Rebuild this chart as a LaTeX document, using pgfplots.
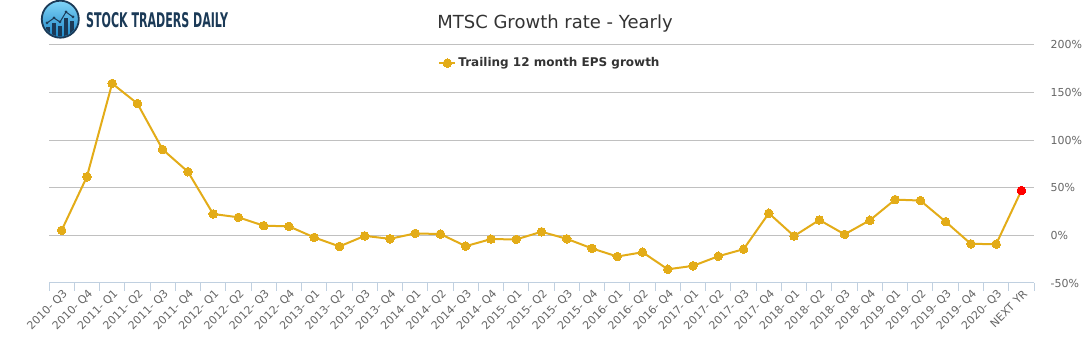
\documentclass[border=0pt]{standalone}
\usepackage{pgfplots}
\pgfplotsset{compat=1.18}
\usepackage{fontspec}
\setmainfont{DejaVu Sans}
\definecolor{gold}{HTML}{E3AC18}
\definecolor{gridc}{HTML}{C0C0C0}
\definecolor{axisc}{HTML}{C0D0E0}
\definecolor{labc}{HTML}{666666}
\definecolor{titc}{HTML}{333333}
\definecolor{navy}{HTML}{1B3A57}
\definecolor{skyA}{HTML}{7FD3F7}
\definecolor{skyB}{HTML}{1E88C8}
\begin{document}
\begin{tikzpicture}[x=1pt,y=1pt]
\useasboundingbox (0,0) rectangle (1091,350);
% logo
\shade[top color=skyA, bottom color=skyB] (60.3,330.8) circle (18);
\draw[navy, line width=1.8pt] (60.3,330.8) circle (18.5);
\begin{scope}
\clip (60.3,330.8) circle (17.2);
\fill[navy] (46,312) rectangle (50,323);
\fill[navy] (52,312) rectangle (56,327);
\fill[navy] (58,312) rectangle (62,324);
\fill[navy] (64,312) rectangle (68,332);
\fill[navy] (70,312) rectangle (74,329);
\end{scope}
\draw[navy, line width=1pt] (47,327)--(54,332)--(60,328)--(66,338)--(73,333);
\foreach \p in {(47,327),(54,332),(60,328),(66,338),(73,333)} \fill[navy] \p circle (1.5);
\node[anchor=south west, inner sep=0, text=navy] at (86,321.7) {\resizebox{142pt}{15pt}{\bfseries STOCK TRADERS DAILY}};
% title
\node[text=titc, font=\fontsize{18}{22}\selectfont] at (555,326) {MTSC Growth rate - Yearly};
\begin{axis}[
  at={(49pt,67pt)}, anchor=south west,
  scale only axis, width=985pt, height=238pt,
  xmin=-0.5, xmax=38.5, ymin=-50, ymax=200,
  axis x line*=bottom, axis y line*=right,
  x axis line style={draw=axisc, line width=1pt, -},
  y axis line style={draw=none},
  xtick={0,...,38},
  xticklabels={2010- Q3, 2010- Q4, 2011- Q1, 2011- Q2, 2011- Q3, 2011- Q4, 2012- Q1, 2012- Q2, 2012- Q3, 2012- Q4, 2013- Q1, 2013- Q2, 2013- Q3, 2013- Q4, 2014- Q1, 2014- Q2, 2014- Q3, 2014- Q4, 2015- Q1, 2015- Q2, 2015- Q3, 2015- Q4, 2016- Q1, 2016- Q2, 2016- Q4, 2017- Q1, 2017- Q2, 2017- Q3, 2017- Q4, 2018- Q1, 2018- Q2, 2018- Q3, 2018- Q4, 2019- Q1, 2019- Q2, 2019- Q3, 2019- Q4, 2020- Q3, NEXT YR},
  minor xtick={-0.5,0.5,...,38.5},
  major tick length=0pt, minor tick length=8pt,
  tick align=outside,
  minor tick style={draw=axisc, line width=1pt},
  xticklabel style={font=\fontsize{11}{13}\selectfont, text=labc, rotate=45, anchor=east, yshift=-9pt},
  ytick={-50,0,50,100,150,200},
  ymajorgrids, grid style={draw=gridc, line width=1pt},
  yticklabel pos=right,
  yticklabel={\pgfmathprintnumber{\tick}\%},
  yticklabel style={font=\fontsize{11}{13}\selectfont, text=labc, anchor=west, xshift=13pt},
  /pgf/number format/assume math mode=true,
  clip=false,
  legend style={at={(0.5086,0.924)}, anchor=center, draw=none, fill=none,
    font=\bfseries\fontsize{12}{14}\selectfont, text=titc},
  legend image code/.code={\draw[mark repeat=2,mark phase=2,#1] plot coordinates {(0pt,0pt)(8pt,0pt)(16pt,0pt)};},
]
\addplot[color=gold, line width=2pt, mark=*, mark size=4.3pt, mark options={fill=gold, draw=gold, line width=0pt}]
coordinates {
(0,5.3)(1,61.6)(2,159.6)(3,138.5)(4,90.2)(5,66.9)(6,22.5)(7,19.0)(8,10.2)(9,9.5)
(10,-2.1)(11,-11.6)(12,-0.5)(13,-3.6)(14,2.1)(15,1.4)(16,-11.3)(17,-3.9)(18,-4.2)(19,3.8)
(20,-3.6)(21,-13.7)(22,-22.2)(23,-17.7)(24,-35.6)(25,-32.0)(26,-21.9)(27,-14.5)(28,23.3)(29,-0.7)
(30,16.2)(31,1.1)(32,15.9)(33,37.6)(34,36.6)(35,14.4)(36,-8.9)(37,-9.2)(38,47.1)
};
\addlegendentry{Trailing 12 month EPS growth}
\addplot[only marks, mark=*, mark size=4.3pt, mark options={fill=red, draw=red, line width=0pt}, forget plot]
coordinates {(38,47.1)};
\end{axis}
\end{tikzpicture}
\end{document}
